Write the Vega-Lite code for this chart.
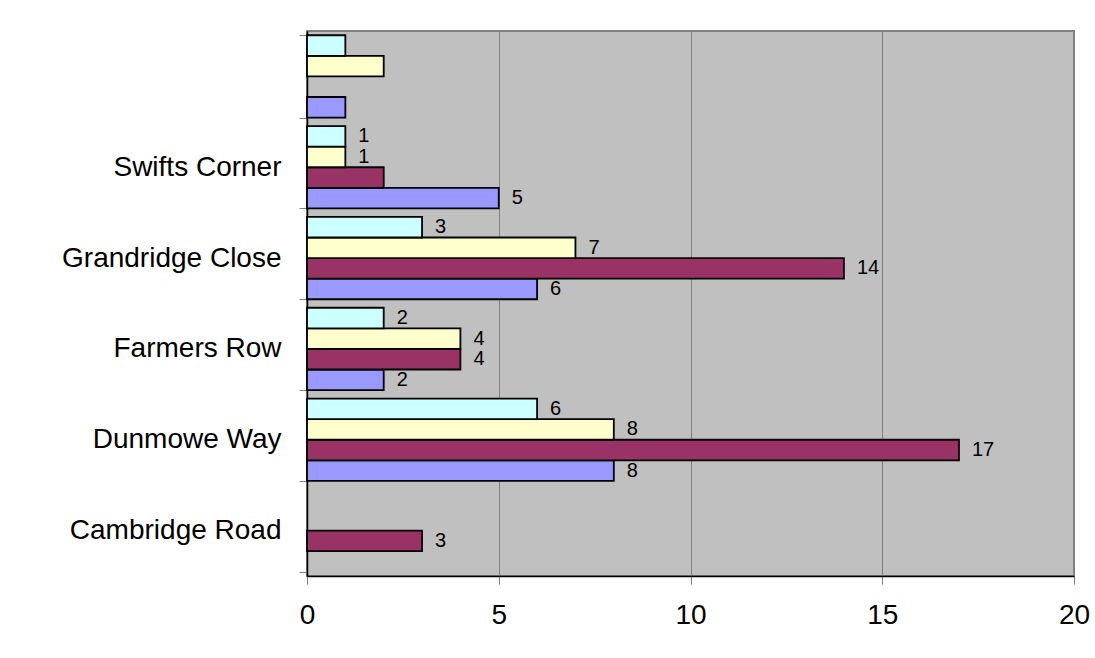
{
  "$schema": "https://vega.github.io/schema/vega-lite/v6.json",
  "autosize": "none",
  "width": 767,
  "height": 545,
  "padding": {"left": 307, "top": 31, "right": 21, "bottom": 82},
  "background": "#ffffff",
  "config": {
    "font": "Liberation Sans",
    "view": {"fill": "#c0c0c0", "stroke": "#808080", "strokeWidth": 2}
  },
  "data": {
    "values": [
      {"street": "Cambridge Road", "series": "Series 2", "value": 3, "shown": true},

      {"street": "Dunmowe Way", "series": "Series 1", "value": 8, "shown": true},
      {"street": "Dunmowe Way", "series": "Series 2", "value": 17, "shown": true},
      {"street": "Dunmowe Way", "series": "Series 3", "value": 8, "shown": true},
      {"street": "Dunmowe Way", "series": "Series 4", "value": 6, "shown": true},

      {"street": "Farmers Row", "series": "Series 1", "value": 2, "shown": true},
      {"street": "Farmers Row", "series": "Series 2", "value": 4, "shown": true},
      {"street": "Farmers Row", "series": "Series 3", "value": 4, "shown": true},
      {"street": "Farmers Row", "series": "Series 4", "value": 2, "shown": true},

      {"street": "Grandridge Close", "series": "Series 1", "value": 6, "shown": true},
      {"street": "Grandridge Close", "series": "Series 2", "value": 14, "shown": true},
      {"street": "Grandridge Close", "series": "Series 3", "value": 7, "shown": true},
      {"street": "Grandridge Close", "series": "Series 4", "value": 3, "shown": true},

      {"street": "Swifts Corner", "series": "Series 1", "value": 5, "shown": true},
      {"street": "Swifts Corner", "series": "Series 2", "value": 2, "shown": false},
      {"street": "Swifts Corner", "series": "Series 3", "value": 1, "shown": true},
      {"street": "Swifts Corner", "series": "Series 4", "value": 1, "shown": true},

      {"street": " ", "series": "Series 1", "value": 1, "shown": false},
      {"street": " ", "series": "Series 3", "value": 2, "shown": false},
      {"street": " ", "series": "Series 4", "value": 1, "shown": false}
    ]
  },
  "encoding": {
    "y": {
      "field": "street",
      "type": "nominal",
      "title": null,
      "scale": {
        "domain": [" ", "Swifts Corner", "Grandridge Close", "Farmers Row", "Dunmowe Way", "Cambridge Road"],
        "paddingInner": 0.094,
        "paddingOuter": 0.047
      },
      "axis": {
        "domainColor": "#000000",
        "domainWidth": 1.5,
        "tickBand": "extent",
        "tickColor": "#808080",
        "tickSize": 8,
        "tickWidth": 1,
        "labelFont": "Liberation Sans",
        "labelFontSize": 28,
        "labelColor": "#000000",
        "labelPadding": 18,
        "labelLimit": 400,
        "grid": false
      }
    },
    "yOffset": {
      "field": "series",
      "type": "nominal",
      "scale": {
        "domain": ["Series 4", "Series 3", "Series 2", "Series 1"],
        "paddingInner": 0,
        "paddingOuter": 0
      }
    },
    "x": {
      "field": "value",
      "type": "quantitative",
      "title": null,
      "scale": {"domain": [0, 20], "nice": false, "zero": true},
      "axis": {
        "values": [0, 5, 10, 15, 20],
        "domainColor": "#000000",
        "domainWidth": 1.5,
        "tickColor": "#808080",
        "tickSize": 8,
        "tickWidth": 1,
        "labelFont": "Liberation Sans",
        "labelFontSize": 28,
        "labelColor": "#000000",
        "labelPadding": 17,
        "labelFlush": false,
        "grid": true,
        "gridColor": "#808080",
        "gridWidth": 1,
        "gridOpacity": 1
      }
    }
  },
  "layer": [
    {
      "mark": {"type": "bar", "stroke": "#000000", "strokeWidth": 1.8, "cornerRadius": 0},
      "encoding": {
        "color": {
          "field": "series",
          "type": "nominal",
          "legend": null,
          "scale": {
            "domain": ["Series 1", "Series 2", "Series 3", "Series 4"],
            "range": ["#9999ff", "#993366", "#ffffcc", "#ccffff"]
          }
        },
        "fillOpacity": {"value": 1}
      }
    },
    {
      "transform": [{"filter": "datum.shown"}],
      "mark": {
        "type": "text",
        "align": "left",
        "baseline": "middle",
        "dx": 13,
        "font": "Liberation Sans",
        "fontSize": 20,
        "color": "#000000"
      },
      "encoding": {
        "text": {"field": "value", "type": "quantitative"}
      }
    }
  ]
}
